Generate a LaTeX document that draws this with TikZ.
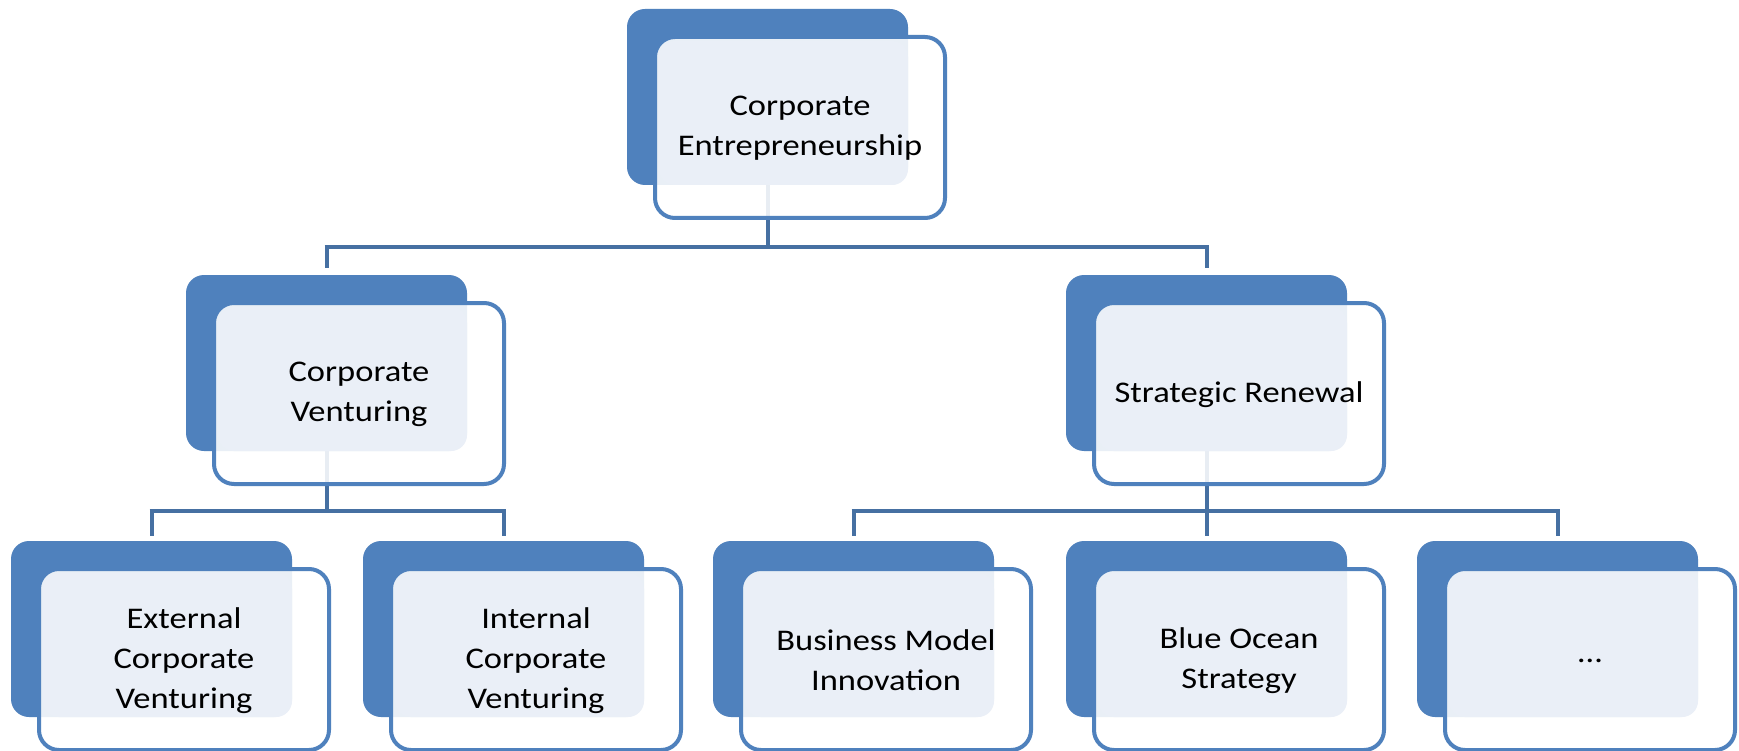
\documentclass[tikz,border=0pt]{standalone}
\usepackage{fontspec}
\setmainfont{Carlito}[FakeStretch=1.15]
\usetikzlibrary{calc}
\definecolor{accent}{RGB}{79,129,189}
\definecolor{connc}{RGB}{70,112,162}
\definecolor{lightc}{RGB}{234,239,247}
\pgfdeclarelayer{bg}
\pgfsetlayers{bg,main}
\newcommand\orgunit[4]{%
  \node[backbox] (#1-b) at (#2,#3) {};
  \node[frontbox] (#1-f) at ($(#2,#3)+(28,28)$) {};
  \fill[lightbox] ($(#1-f.north west)+(4,4)$) rectangle (#1-b.south east);
  \node[boxtext] (#1) at ($(#1-f.center)+(0,1)$) {#4};
}
\begin{document}
\begin{tikzpicture}[x=1pt,y=-1pt,
  backbox/.style={fill=accent, rounded corners=18pt, minimum width=281pt, minimum height=176pt, anchor=north west, inner sep=0pt, outer sep=0pt},
  frontbox/.style={draw=accent, line width=4pt, fill=white, fill opacity=0.88, rounded corners=20pt, minimum width=290pt, minimum height=181pt, anchor=north west, inner sep=0pt, outer sep=0pt},
  lightbox/.style={fill=lightc, rounded corners=16pt},
  boxtext/.style={align=center, font=\fontsize{30}{40}\selectfont, text=black, inner sep=0pt},
  conn/.style={draw=connc, line width=4pt}]
\useasboundingbox (0,0) rectangle (1739,751);
\orgunit{ce}{627}{9}{Corporate\\Entrepreneurship}
\orgunit{cv}{186}{275}{Corporate\\Venturing}
\orgunit{sr}{1066}{275}{Strategic Renewal}
\orgunit{ext}{11}{541}{External\\Corporate\\Venturing}
\orgunit{int}{363}{541}{Internal\\Corporate\\Venturing}
\orgunit{bmi}{713}{541}{Business Model\\Innovation}
\orgunit{boi}{1066}{541}{Blue Ocean\\Strategy}
\orgunit{etc}{1417}{541}{…}
\coordinate (j1) at ($(ce-b.south)+(0,62)$);
\coordinate (j2) at ($(cv-b.south)+(0,60)$);
\coordinate (j3) at ($(sr-b.south)+(0,60)$);
\begin{pgfonlayer}{bg}
  \fill[white] (0,0) rectangle (1739,751);
  \draw[conn] (ce-b.south) -- (j1);
  \draw[conn] ([xshift=-2pt]cv-b.north |- j1) -- ([xshift=2pt]sr-b.north |- j1);
  \draw[conn, shorten >=7pt] (cv-b.north |- j1) -- (cv-b.north);
  \draw[conn, shorten >=7pt] (sr-b.north |- j1) -- (sr-b.north);
  \draw[conn] (cv-b.south) -- (j2);
  \draw[conn] ([xshift=-2pt]ext-b.north |- j2) -- ([xshift=2pt]int-b.north |- j2);
  \draw[conn, shorten >=5pt] (ext-b.north |- j2) -- (ext-b.north);
  \draw[conn, shorten >=5pt] (int-b.north |- j2) -- (int-b.north);
  \draw[conn] (sr-b.south) -- (j3);
  \draw[conn] ([xshift=-2pt]bmi-b.north |- j3) -- ([xshift=2pt]etc-b.north |- j3);
  \draw[conn, shorten >=5pt] (bmi-b.north |- j3) -- (bmi-b.north);
  \draw[conn, shorten >=5pt] (boi-b.north |- j3) -- (boi-b.north);
  \draw[conn, shorten >=5pt] (etc-b.north |- j3) -- (etc-b.north);
\end{pgfonlayer}
\end{tikzpicture}
\end{document}
